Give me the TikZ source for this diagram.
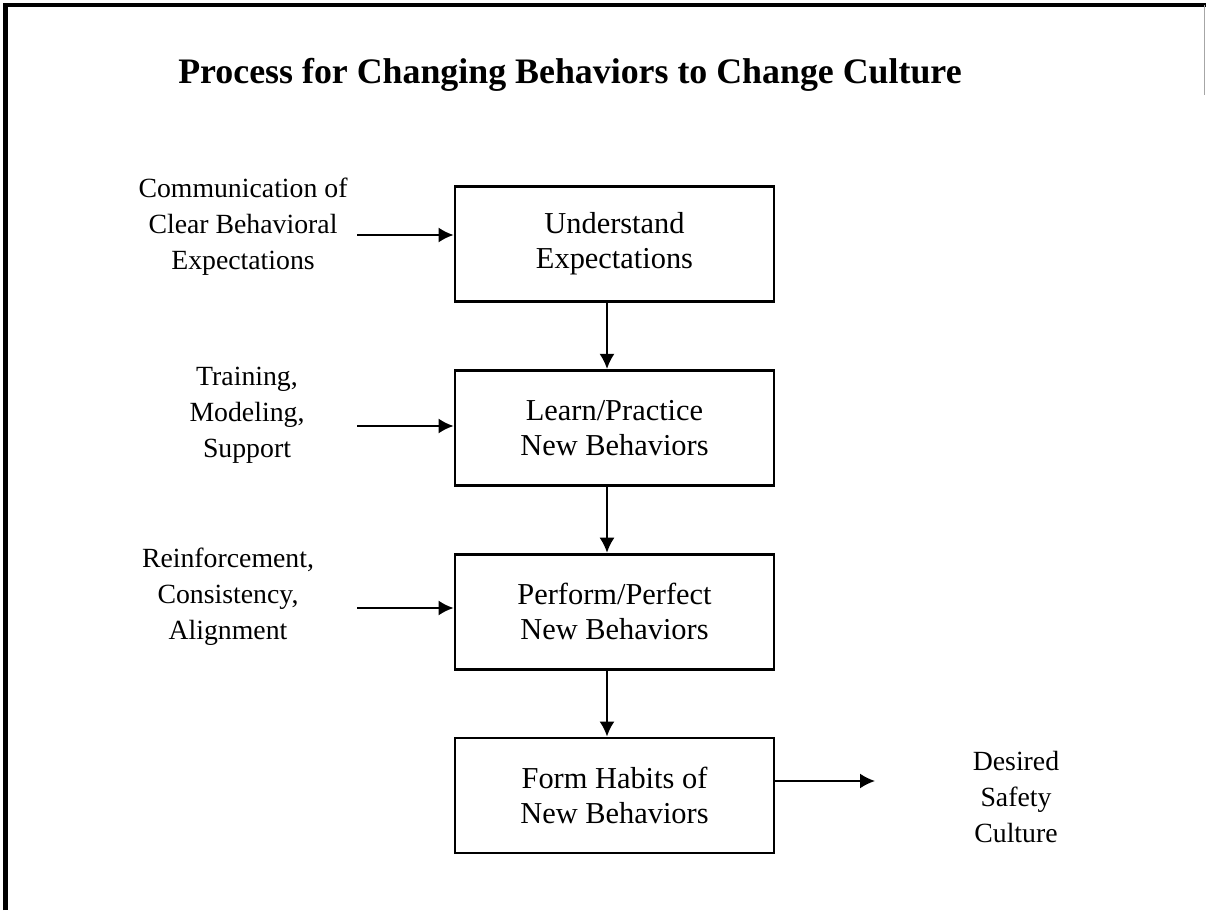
\documentclass[tikz,border=0pt]{standalone}
\usepackage{fontspec}
\setmainfont{Liberation Serif}
\usetikzlibrary{positioning,arrows.meta}

\tikzset{
    stage/.style={draw, line width=1.6pt, minimum width=6.38cm, minimum height=2.3cm,
        align=center, font=\fontsize{17.3}{20}\selectfont},
    feed/.style={align=center, font=\fontsize{15.8}{20.5}\selectfont},
    flow/.style={-{Latex[length=3mm,width=3mm]}, line width=1.1pt}
}

\begin{document}
\begin{tikzpicture}

    \useasboundingbox (0,0) rectangle (24.12,18.2);

    % frame
    \draw[line width=2.6pt] (0.11,0) -- (0.11,18.1) -- (24.12,18.1);
    \draw[gray!70, line width=0.3pt] (24.08,18.1) -- (24.08,16.3);

    \node[font=\bfseries\fontsize{20.4}{24}\selectfont] (title) at (11.4,16.7) {Process for Changing Behaviors to Change Culture};

    % the four stages
    \node[stage] (understand) at (12.29,13.32) {Understand\\Expectations};
    \node[stage, below=1.32cm of understand] (learn) {Learn/Practice\\New Behaviors};
    \node[stage, below=1.32cm of learn] (perform) {Perform/Perfect\\New Behaviors};
    \node[stage, below=1.32cm of perform] (habits) {Form Habits of\\New Behaviors};

    \draw[flow] ([xshift=-1.5mm]understand.south) -- ([xshift=-1.5mm]learn.north);
    \draw[flow] ([xshift=-1.5mm]learn.south) -- ([xshift=-1.5mm]perform.north);
    \draw[flow] ([xshift=-1.5mm]perform.south) -- ([xshift=-1.5mm]habits.north);

    % inputs on the left
    \node[feed] (comm) at (4.86,13.66) {Communication of\\Clear Behavioral\\Expectations};
    \node[feed] (train) at (4.94,9.9) {Training,\\Modeling,\\Support};
    \node[feed] (reinf) at (4.56,6.26) {Reinforcement,\\Consistency,\\Alignment};

    \coordinate (comm in) at (7.14,13.5);
    \coordinate (train in) at (7.14,9.68);
    \coordinate (reinf in) at (7.14,6.04);
    \draw[flow] (comm in) -- (comm in -| understand.west);
    \draw[flow] (train in) -- (train in -| learn.west);
    \draw[flow] (reinf in) -- (reinf in -| perform.west);

    % outcome
    \coordinate (goal) at (17.5,2.58);
    \draw[flow] (goal -| habits.east) -- (goal);
    \node[feed] (desired) at (20.32,2.26) {Desired\\Safety\\Culture};

\end{tikzpicture}
\end{document}
